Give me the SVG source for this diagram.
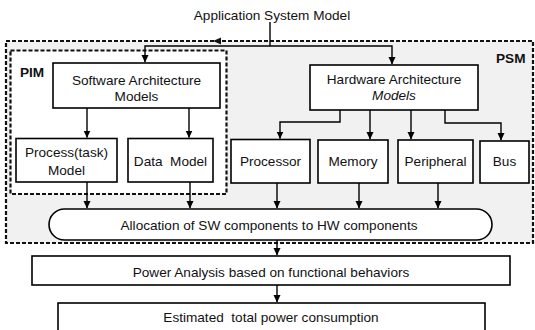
<svg xmlns="http://www.w3.org/2000/svg" width="535" height="330" viewBox="0 0 535 330">
  <defs>
    <marker id="arrow" markerWidth="8" markerHeight="8" refX="7" refY="4" orient="auto" markerUnits="userSpaceOnUse">
      <path d="M0,0.5 L7.5,4 L0,7.5 Z" fill="#000"/>
    </marker>
  </defs>
  <style>
    text { font-family: "Liberation Sans", Arial, sans-serif; font-size: 13.6px; fill: #111; }
    .c { text-anchor: middle; }
    .b { font-weight: bold; }
    .it { font-style: italic; }
    .box { fill: #fff; stroke: #000; stroke-width: 1.6; }
    .zone { stroke: #111; stroke-width: 2.2; stroke-dasharray: 4 2; }
    .link { fill: none; stroke: #000; stroke-width: 1.4; }
  </style>

  <rect width="535" height="330" fill="#fff"/>

  <!-- platform-specific zone -->
  <g id="psm">
    <rect class="zone" x="6" y="41" width="527" height="202" fill="#f1f1f1"/>
    <text class="b" x="496" y="63">PSM</text>
  </g>

  <!-- platform-independent zone -->
  <g id="pim">
    <rect class="zone" x="10.5" y="50.5" width="216" height="143.5" fill="#fff" stroke-width="1.8"/>
    <text class="b" x="20" y="77">PIM</text>
  </g>

  <g id="app-model">
    <text class="c" x="272" y="20">Application System Model</text>
  </g>

  <g id="sw-arch">
    <rect class="box" x="53" y="63" width="167" height="45"/>
    <text class="c" x="136.5" y="85">Software Architecture</text>
    <text class="c" x="136.5" y="101">Models</text>
  </g>

  <g id="hw-arch">
    <rect class="box" x="310" y="65" width="168" height="45"/>
    <text class="c" x="394" y="84">Hardware Architecture</text>
    <text class="c it" x="394" y="100">Models</text>
  </g>

  <g id="process-model">
    <rect class="box" x="16" y="138.5" width="101" height="43.5"/>
    <text class="c" x="66.5" y="157">Process(task)</text>
    <text class="c" x="66.5" y="175">Model</text>
  </g>

  <g id="data-model">
    <rect class="box" x="128" y="138.5" width="85" height="43.5"/>
    <text class="c" x="170.5" y="166" xml:space="preserve">Data  Model</text>
  </g>

  <g id="processor">
    <rect class="box" x="231" y="139.5" width="79" height="43.5"/>
    <text class="c" x="270.5" y="166">Processor</text>
  </g>

  <g id="memory">
    <rect class="box" x="318" y="140" width="70" height="43"/>
    <text class="c" x="353" y="166">Memory</text>
  </g>

  <g id="peripheral">
    <rect class="box" x="398" y="140" width="75" height="43"/>
    <text class="c" x="435.5" y="166">Peripheral</text>
  </g>

  <g id="bus">
    <rect class="box" x="480" y="141" width="49" height="42"/>
    <text class="c" x="504.5" y="166">Bus</text>
  </g>

  <g id="allocation">
    <rect class="box" x="49" y="209" width="443" height="31" rx="15.5" ry="15.5"/>
    <text class="c" x="269" y="230">Allocation of SW components to HW components</text>
  </g>

  <g id="power-analysis">
    <rect class="box" x="32" y="256" width="478" height="29"/>
    <text class="c" x="271" y="277">Power Analysis based on functional behaviors</text>
  </g>

  <g id="total-power">
    <rect class="box" x="58" y="303" width="427" height="40"/>
    <text class="c" x="271" y="322" xml:space="preserve">Estimated  total power consumption</text>
  </g>

  <g id="connectors">
    <!-- system model split into SW and HW architectures -->
    <path class="link" d="M270,22 V46"/>
    <path class="link" d="M270,46 H145 V62" marker-end="url(#arrow)"/>
    <path class="link" d="M270,46 H392 V64" marker-end="url(#arrow)"/>
    <path d="M213,41 L221,37.5 L221,44.5 Z" fill="#111"/>

    <!-- software refinement -->
    <path class="link" d="M87,108 V137.5" marker-end="url(#arrow)"/>
    <path class="link" d="M189,108 V137.5" marker-end="url(#arrow)"/>

    <!-- hardware refinement -->
    <path class="link" d="M340,110 V122 H280 V138.5" marker-end="url(#arrow)"/>
    <path class="link" d="M370,110 V139" marker-end="url(#arrow)"/>
    <path class="link" d="M411,110 V139" marker-end="url(#arrow)"/>
    <path class="link" d="M445,110 V123 H501 V140" marker-end="url(#arrow)"/>

    <!-- into allocation -->
    <path class="link" d="M87,182 V208" marker-end="url(#arrow)"/>
    <path class="link" d="M190,182 V208" marker-end="url(#arrow)"/>
    <path class="link" d="M277,183 V208" marker-end="url(#arrow)"/>
    <path class="link" d="M359,183 V208" marker-end="url(#arrow)"/>
    <path class="link" d="M438,183 V208" marker-end="url(#arrow)"/>

    <!-- analysis chain -->
    <path class="link" d="M277,240 V255" marker-end="url(#arrow)"/>
    <path class="link" d="M277,285 V302" marker-end="url(#arrow)"/>
  </g>
</svg>
